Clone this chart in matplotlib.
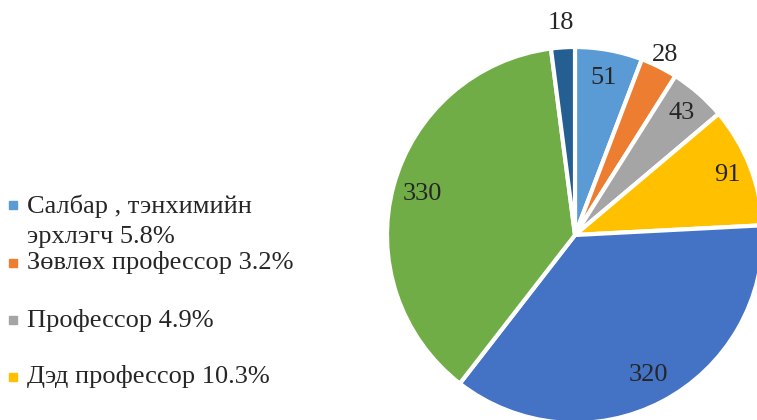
import matplotlib
matplotlib.use('Agg')
import matplotlib.pyplot as plt
import numpy as np

plt.rcParams['font.family'] = ['Liberation Serif', 'DejaVu Serif']

# Data
values = [51, 28, 43, 91, 320, 330, 18]
colors = ['#5B9BD5', '#ED7D31', '#A5A5A5', '#FFC000', '#4472C4', '#70AD47', '#255E91']
legend_labels = ['Салбар , тэнхимийн\nэрхлэгч 5.8%', 'Зөвлөх профессор 3.2%',
                 'Профессор 4.9%', 'Дэд профессор 10.3%']
label_radius = [0.85, 1.07, 0.86, 0.87, 0.84, 0.84, 1.13]

W, H = 757, 420
fig = plt.figure(figsize=(W / 100, H / 100), dpi=100)

# pie centre and radius in pixels
cx, cy, r = 575, 420 - 235, 188
ax = fig.add_axes([(cx - r) / W, (cy - r) / H, 2 * r / W, 2 * r / H])
wedges, _ = ax.pie(values, colors=colors, startangle=90, counterclock=False,
                   wedgeprops=dict(edgecolor='white', linewidth=3))
ax.set_xlim(-1, 1)
ax.set_ylim(-1, 1)
ax.set_aspect('equal')
ax.axis('off')

for w, v, lr in zip(wedges, values, label_radius):
    ang = np.deg2rad((w.theta1 + w.theta2) / 2)
    ax.text(lr * np.cos(ang), lr * np.sin(ang), str(v), ha='center', va='center',
            fontsize=19, color='#262626', clip_on=False)

# legend drawn by hand, entries have uneven spacing in the original
legend_y = [221, 263, 320, 377]
for lab, col, y in zip(legend_labels, colors, legend_y):
    n = lab.count('\n')
    top = y - 16 * n
    fig.patches.append(plt.Rectangle((9 / W, 1 - (top + 4) / H), 8 / W, 8 / H,
                                     transform=fig.transFigure, color=col))
    fig.text(27 / W, 1 - y / H, lab, ha='left', va='center', fontsize=19,
             color='#262626', linespacing=1.45)

fig.savefig('out.png', dpi=100)
